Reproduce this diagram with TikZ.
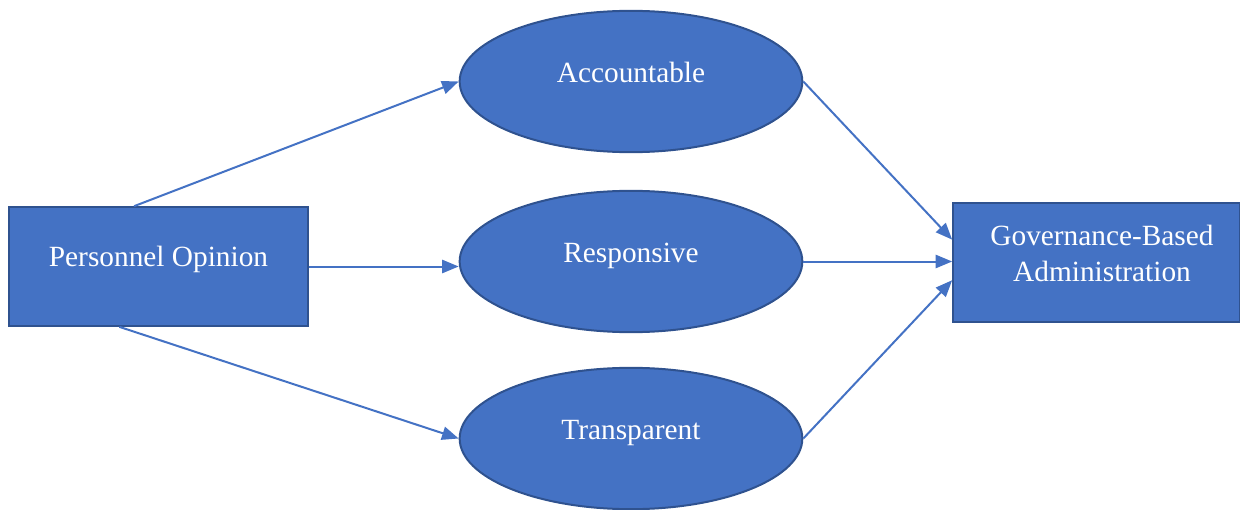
\documentclass[tikz,border=0pt]{standalone}
\usepackage{fontspec}
\setmainfont{Liberation Serif}
\usetikzlibrary{arrows.meta,shapes.geometric}
\definecolor{boxblue}{RGB}{68,114,196}
\definecolor{edgeblue}{RGB}{47,82,143}
\tikzset{every picture/.style={line width=0.75pt}}
\tikzset{
  blockbox/.style={draw=edgeblue,fill=boxblue,line width=1.5pt,minimum width=224pt,minimum height=89pt,inner sep=0pt},
  ellbox/.style={ellipse,draw=edgeblue,fill=boxblue,line width=1.5pt,minimum width=257pt,minimum height=106pt,inner sep=0pt},
  lbl/.style={text=white,font=\fontsize{22}{27}\selectfont,align=center,inner sep=0.75pt},
  link/.style={draw=boxblue,line width=1.5pt,-{Triangle[length=12.5pt,width=10pt]}}
}

\begin{document}
\begin{tikzpicture}[x=0.75pt,y=0.75pt,yscale=-1,xscale=1]
\useasboundingbox (0,0) rectangle (1240,510);

%Shape: Rectangle
\node [blockbox] (pers) at (158.5,266.5) {};
%Shape: Rectangle
\node [blockbox,minimum width=215pt] (gov) at (1096.5,262.5) {};
%Shape: Ellipse
\node [ellbox] (acc) at (631,81.5) {};
%Shape: Ellipse
\node [ellbox] (resp) at (631,261.5) {};
%Shape: Ellipse
\node [ellbox] (trans) at (631,438.5) {};

% Text Node
\node [lbl] (persT) at (158.5,259) {Personnel Opinion};
% Text Node
\node [lbl] (govT) at (1102,253) {Governance-Based\\Administration};
% Text Node
\node [lbl] (accT) at (631,72) {Accountable};
% Text Node
\node [lbl] (respT) at (631,256) {Responsive};
% Text Node
\node [lbl] (transT) at (631,433) {Transparent};

%Straight Lines
\draw [link] (pers.112) -- (acc.west);
\draw [link] (pers.east) -- (pers.east -| resp.west);
\draw [link] (pers.237) -- (trans.west);
\draw [link] (acc.east) -- (gov.171);
\draw [link] (resp.east) -- (resp.east -| gov.west);
\draw [link] (trans.east) -- (gov.187);

\end{tikzpicture}
\end{document}
